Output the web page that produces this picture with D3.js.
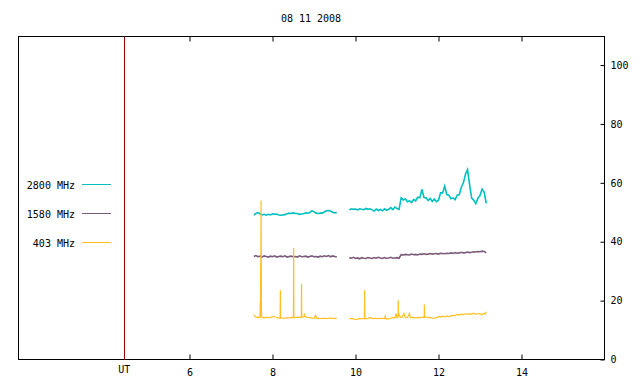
<!DOCTYPE html>
<html lang="en">
<head>
    <meta charset="UTF-8">
    <title>08 11 2008</title>
    <script src="https://cdn.jsdelivr.net/npm/d3@7"></script>
    <style>
        body { margin: 0; background: #fff; }
        text { font-family: "DejaVu Sans Mono", monospace; font-size: 10px; fill: #000; }
    </style>
</head>
<body>
    <div id="root"></div>
    <script>
        // hours (UT) shared by the 2800 and 1580 MHz traces, 9.70 is the gap
        const utHours = [
            7.55, 7.60, 7.65, 7.70, 7.75, 7.80, 7.85, 7.90, 7.95, 8.00,
            8.05, 8.10, 8.15, 8.20, 8.25, 8.30, 8.35, 8.40, 8.45, 8.50,
            8.55, 8.60, 8.65, 8.70, 8.75, 8.80, 8.85, 8.90, 8.95, 9.00,
            9.05, 9.10, 9.15, 9.20, 9.25, 9.30, 9.35, 9.40, 9.45, 9.50,
            9.55,
            9.70,
            9.85, 9.90, 9.95, 10.00, 10.05, 10.10, 10.15, 10.20, 10.25, 10.30,
            10.35, 10.40, 10.45, 10.50, 10.55, 10.60, 10.65, 10.70, 10.75, 10.80,
            10.85, 10.90, 10.95, 11.00, 11.05,
            11.10, 11.15, 11.20, 11.25, 11.30, 11.35, 11.40, 11.45, 11.50, 11.55,
            11.60, 11.65, 11.70, 11.75, 11.80, 11.85, 11.90, 11.95, 12.00,
            12.05, 12.10, 12.15, 12.20, 12.25, 12.30, 12.35, 12.40, 12.45, 12.50,
            12.55, 12.60, 12.65, 12.70, 12.75, 12.80, 12.85, 12.90, 12.95, 13.00,
            13.05, 13.10, 13.15
        ];

        const flux2800 = [
            49.0, 49.6, 49.9, 49.5, 49.1, 49.3, 49.0, 49.3, 49.1, 49.5,
            49.3, 49.4, 49.1, 49.0, 49.1, 49.2, 49.5, 49.7, 49.6, 49.8,
            49.6, 49.6, 49.3, 49.4, 49.5, 49.8, 49.7, 49.9, 50.5, 50.2,
            49.7, 49.6, 49.7, 49.7, 50.1, 50.5, 50.6, 50.4, 50.0, 49.8,
            49.9,
            null,
            50.8, 51.2, 51.0, 51.1, 50.8, 51.2, 51.0, 50.9, 51.3, 51.0,
            51.2, 50.8, 50.4, 51.1, 50.6, 51.0, 50.5, 51.2, 50.7, 51.0,
            51.6, 50.9, 51.8, 51.3, 51.0,
            54.9, 54.2, 54.6, 53.6, 53.9, 53.3, 54.3, 53.9, 55.1, 54.9,
            57.8, 55.0, 54.9, 54.0, 54.7, 53.7, 54.5, 53.6, 54.1,
            56.6, 56.6, 58.9, 56.0, 55.8, 54.6, 54.9, 54.3, 55.8, 56.0,
            58.5, 60.0, 62.9, 64.5, 59.3, 54.8, 54.1, 53.0, 54.8, 55.7,
            57.9, 56.9, 53.0
        ];

        const flux1580 = [
            35.0, 35.3, 34.9, 35.1, 34.8, 35.2, 35.0, 34.8, 35.1, 34.9,
            35.2, 34.8, 35.0, 35.1, 34.9, 35.2, 34.8, 35.0, 35.1, 34.9,
            35.0, 34.8, 35.2, 34.9, 35.0, 35.1, 34.8, 35.0, 35.2, 34.9,
            35.0, 34.8, 35.1, 34.9, 35.2, 35.0, 35.3, 34.9, 35.2, 35.0,
            34.8,
            null,
            34.6, 34.4, 34.7, 34.3, 34.5, 34.2, 34.6, 34.4, 34.3, 34.6,
            34.5, 34.3, 34.6, 34.4, 34.7, 34.5, 34.3, 34.6, 34.4, 34.5,
            34.7, 34.4, 34.5, 34.6, 34.4,
            35.6, 35.5, 35.7, 35.6, 35.5, 35.8, 35.6, 35.7, 35.5, 35.8,
            35.7, 35.9, 35.7, 35.8, 36.0, 35.8, 35.9, 36.0, 35.8,
            36.1, 36.0, 35.9, 36.1, 36.0, 36.2, 36.0, 36.3, 36.1, 36.2,
            36.4, 36.2, 36.3, 36.5, 36.3, 36.4, 36.6, 36.5, 36.7, 36.6,
            36.8, 36.7, 36.2
        ];

        // the 403 MHz trace has its own, finer hours because of the short spikes
        const ut403 = [
            7.55, 7.58, 7.62, 7.66, 7.70, 7.705, 7.71, 7.715, 7.72, 7.725,
            7.73, 7.735, 7.76, 7.80, 7.85, 7.90, 7.95, 8.00, 8.05, 8.10,
            8.15, 8.185, 8.19, 8.195, 8.25, 8.30, 8.35, 8.40, 8.45, 8.505,
            8.51, 8.515, 8.55, 8.60, 8.65, 8.695, 8.70, 8.705, 8.76, 8.77,
            8.78, 8.85, 8.90, 8.95, 9.00, 9.04, 9.06, 9.10, 9.15, 9.20,
            9.25, 9.30, 9.35, 9.40, 9.45, 9.50, 9.55,
            9.70,
            9.85, 9.90, 9.95, 10.00, 10.05, 10.10, 10.15, 10.215, 10.22, 10.225,
            10.30, 10.36, 10.40, 10.45, 10.50, 10.55, 10.60, 10.65, 10.70, 10.72,
            10.74, 10.80, 10.85, 10.90, 10.95, 10.98, 11.00, 11.025, 11.03, 11.035,
            11.05, 11.08, 11.12, 11.17, 11.20, 11.25, 11.30, 11.32, 11.40, 11.45,
            11.50, 11.55, 11.60, 11.655, 11.66, 11.665, 11.70, 11.75, 11.80, 11.85,
            11.90, 11.95, 12.00, 12.05, 12.10, 12.15, 12.20, 12.25, 12.30, 12.35,
            12.40, 12.45, 12.50, 12.55, 12.60, 12.65, 12.70, 12.75, 12.80, 12.85,
            12.90, 12.95, 13.00, 13.05, 13.10, 13.13, 13.15
        ];

        const flux403 = [
            15.2, 14.6, 14.3, 14.4, 14.2, 19.7, 14.5, 32.5, 31.8, 54.0,
            32.0, 14.6, 14.3, 14.1, 14.4, 14.2, 14.3, 14.5, 14.6, 14.2,
            14.1, 14.0, 23.5, 14.1, 14.1, 14.0, 14.2, 14.1, 14.3, 14.2,
            37.9, 14.3, 14.2, 14.4, 14.3, 14.3, 25.7, 14.4, 14.5, 15.6,
            14.6, 14.3, 14.2, 14.1, 14.0, 15.0, 14.0, 14.0, 13.9, 14.0,
            14.0, 13.9, 14.0, 14.1, 13.9, 14.0, 14.0,
            null,
            13.9, 13.9, 13.8, 13.6, 13.7, 13.9, 13.9, 13.9, 23.5, 13.9,
            13.9, 14.3, 13.9, 14.0, 13.9, 14.0, 13.9, 14.0, 13.9, 14.8,
            13.7, 13.8, 14.0, 14.3, 14.1, 15.6, 14.2, 14.2, 20.1, 14.8,
            15.3, 14.4, 14.3, 15.6, 14.3, 14.2, 15.6, 14.2, 14.3, 14.1,
            14.3, 14.2, 14.3, 14.3, 18.7, 14.3, 14.5, 14.2, 14.3, 14.1,
            14.0, 14.2, 14.6, 14.4, 14.7, 14.5, 14.8, 14.6, 14.8, 14.9,
            15.0, 15.3, 15.1, 15.5, 15.2, 15.6, 15.3, 15.5, 15.4, 15.7,
            15.3, 15.6, 15.5, 15.2, 15.7, 15.4, 16.2
        ];

        const seriesNames = ['2800 MHz', '1580 MHz', '403 MHz'];
        const seriesColors = ['#00bfbf', '#7b5b7b', '#ffbf20'];
        const hourTicks = [6, 8, 10, 12, 14];
        const fluxTicks = [0, 20, 40, 60, 80, 100];
        const markerHour = 4.43; // red "UT" marker
        const title = '08 11 2008';

        const width = 640, height = 384;
        const plotLeft = 18.5, plotRight = 604.5, plotTop = 36.5, plotBottom = 359.5;

        const svg = d3.select('#root')
            .append('svg')
            .attr('width', width)
            .attr('height', height);

        const x = d3.scaleLinear().domain([1.88, 16]).range([plotLeft, plotRight]);
        const y = d3.scaleLinear().domain([0, 109.7]).range([plotBottom, plotTop]);

        svg.append('text')
            .attr('x', 311)
            .attr('y', 22)
            .attr('text-anchor', 'middle')
            .text(title);

        // bottom axis, ticks pointing in
        const xAxis = svg.append('g')
            .attr('transform', `translate(0,${plotBottom})`)
            .call(d3.axisBottom(x).tickValues(hourTicks).tickSize(-5).tickPadding(9));
        xAxis.select('.domain').remove();

        const xTop = svg.append('g')
            .attr('transform', `translate(0,${plotTop})`)
            .call(d3.axisTop(x).tickValues(hourTicks).tickSize(-5).tickFormat(''));
        xTop.select('.domain').remove();

        const yAxis = svg.append('g')
            .attr('transform', `translate(${plotRight},0)`)
            .call(d3.axisRight(y).tickValues(fluxTicks).tickSize(-4).tickPadding(6));
        yAxis.select('.domain').remove();

        svg.selectAll('.tick line').attr('stroke', '#000');
        svg.selectAll('.tick text')
            .style('font-family', '"DejaVu Sans Mono", monospace')
            .style('font-size', '10px');

        svg.append('rect')
            .attr('x', plotLeft)
            .attr('y', plotTop)
            .attr('width', plotRight - plotLeft)
            .attr('height', plotBottom - plotTop)
            .attr('fill', 'none')
            .attr('stroke', '#000');

        // UT marker
        svg.append('line')
            .attr('x1', Math.round(x(markerHour)) + 0.5)
            .attr('x2', Math.round(x(markerHour)) + 0.5)
            .attr('y1', plotTop)
            .attr('y2', plotBottom)
            .attr('stroke', '#a00000');
        svg.append('text')
            .attr('x', x(markerHour))
            .attr('y', 373)
            .attr('text-anchor', 'middle')
            .text('UT');

        const line = d3.line()
            .defined(d => d[1] !== null)
            .x(d => x(d[0]))
            .y(d => y(d[1]));

        const traces = [
            utHours.map((h, i) => [h, flux2800[i]]),
            utHours.map((h, i) => [h, flux1580[i]]),
            ut403.map((h, i) => [h, flux403[i]])
        ];

        svg.append('g')
            .selectAll('path')
            .data(traces)
            .enter()
            .append('path')
            .attr('d', line)
            .attr('fill', 'none')
            .attr('stroke', (d, i) => seriesColors[i])
            .attr('stroke-width', (d, i) => i === 2 ? 1.2 : 1.6)
            .attr('stroke-linejoin', 'miter');

        // legend
        const legend = svg.append('g')
            .selectAll('g')
            .data(seriesNames)
            .enter()
            .append('g')
            .attr('transform', (d, i) => `translate(0,${184.5 + i * 29})`);

        legend.append('text')
            .attr('x', 75)
            .attr('y', 4)
            .attr('text-anchor', 'end')
            .text(d => d);

        legend.append('line')
            .attr('x1', 82)
            .attr('x2', 111)
            .attr('stroke', (d, i) => seriesColors[i]);
    </script>
</body>
</html>
